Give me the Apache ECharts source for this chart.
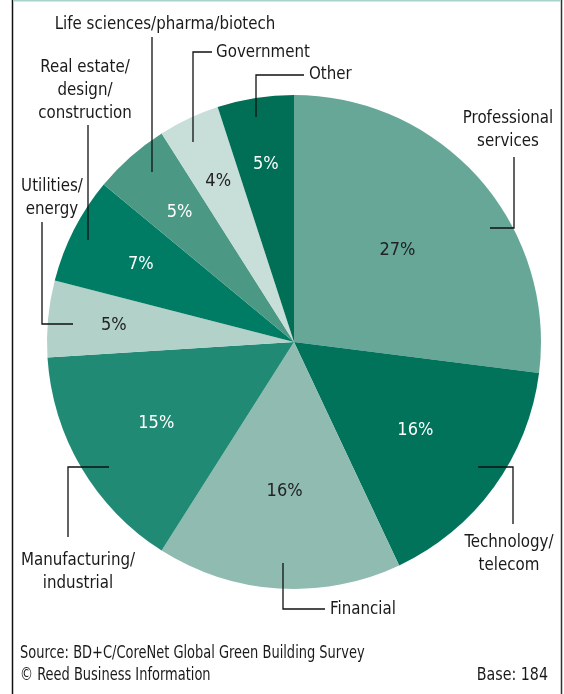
<!DOCTYPE html>
<html><head><meta charset="utf-8">
<script src="https://cdn.jsdelivr.net/npm/echarts@6/dist/echarts.min.js"></script>
<style>html,body{margin:0;padding:0;background:#fff}#c{width:564px;height:694px}</style>
</head><body><div id="c"></div>
<script>
// ---- data ----
const categories = ['Professional services','Technology/telecom','Financial','Manufacturing/industrial','Utilities/energy','Real estate/design/construction','Life sciences/pharma/biotech','Government','Other'];
const labelTexts = ['Professional\nservices','Technology/\ntelecom','Financial','Manufacturing/\nindustrial','Utilities/\nenergy','Real estate/\ndesign/\nconstruction','Life sciences/pharma/biotech','Government','Other'];
const values = [27,16,16,15,5,7,5,4,5];
const sourceLines = ['Source: BD+C/CoreNet Global Green Building Survey','\u00A9 Reed Business Information'];
const baseText = 'Base: 184';

// ---- styles / layout ----
const FONT = "'Liberation Sans Narrow','DejaVu Sans Condensed','Arial Narrow',sans-serif";
const colors = ['#66a797','#00735a','#8fbbb0','#218a74','#b1d1c9','#007c64','#4b9985','#c8ded8','#006f55'];
const pctColors = ['#222','#fff','#222','#fff','#222','#fff','#fff','#222','#fff'];
const pctRadius = [138,150,150,160,181,172,173,178,180];
const CX = 294, CY = 342, R = 247;
const labelLayout = [
  {x:508,y:129.5,align:'center',line:[[490,228],[514,228],[514,157]]},
  {x:509,y:553.5,align:'center',line:[[478,467],[513,467],[513,524]]},
  {x:330,y:609,align:'left',line:[[283,563],[283,609],[325,609]]},
  {x:78,y:572,align:'center',line:[[109,467],[68,467],[68,537]]},
  {x:52,y:198,align:'center',line:[[73,324],[42,324],[42,222]]},
  {x:85,y:90,align:'center',line:[[88,240],[88,125]]},
  {x:165,y:24,align:'center',line:[[152,172],[152,37]]},
  {x:216,y:52,align:'left',line:[[193,142],[193,52],[212,52]]},
  {x:309,y:74,align:'left',line:[[256,117],[256,75],[304,75]]}
];

const chart = echarts.init(document.getElementById('c'), null, {renderer:'canvas'});
const pieData = categories.map((n,i)=>({name:n,value:values[i],itemStyle:{color:colors[i]}}));
const lblData = categories.map((n,i)=>({name:n,value:values[i],label:{color:pctColors[i]}}));

const graphics = [];
// frame
graphics.push({type:'line',shape:{x1:12.5,y1:0,x2:12.5,y2:694},style:{stroke:'#111',lineWidth:1.5},z:10});
graphics.push({type:'line',shape:{x1:561.5,y1:0,x2:561.5,y2:694},style:{stroke:'#333',lineWidth:1.5},z:10});
graphics.push({type:'line',shape:{x1:13,y1:0.5,x2:561,y2:0.5},style:{stroke:'#a8d3ca',lineWidth:2},z:10});
labelLayout.forEach((L,i)=>{
  graphics.push({type:'polyline',shape:{points:L.line},style:{stroke:'#111',lineWidth:1.3,fill:null},z:20});
  graphics.push({type:'text',x:L.x,y:L.y,scaleX:0.93,style:{text:labelTexts[i],x:0,y:0,align:L.align,verticalAlign:'middle',fill:'#1a1a1a',font:'18px '+FONT,lineHeight:23},z:20});
});
graphics.push({type:'text',x:20,y:665,scaleX:0.85,style:{text:sourceLines.join('\n'),x:0,y:0,verticalAlign:'middle',fill:'#1a1a1a',font:'17px '+FONT,lineHeight:22},z:20});
graphics.push({type:'text',x:548,y:675,scaleX:0.88,style:{text:baseText,x:0,y:0,align:'right',verticalAlign:'middle',fill:'#1a1a1a',font:'18px '+FONT},z:20});

chart.setOption({
  animation:false,
  backgroundColor:'#fff',
  series:[
    {type:'pie',center:[CX,CY],radius:[0,R],startAngle:90,clockwise:true,silent:true,
     label:{show:false},labelLine:{show:false},itemStyle:{borderWidth:0},data:pieData},
    {type:'pie',center:[CX,CY],radius:[60,R],startAngle:90,clockwise:true,silent:true,
     itemStyle:{color:'rgba(0,0,0,0)',borderWidth:0},
     label:{show:true,position:'inside',formatter:'{c}%',fontSize:18,fontFamily:FONT},
     labelLine:{show:false},
     labelLayout:function(p){
       const r = p.labelRect; const mx = r.x + r.width/2, my = r.y + r.height/2;
       const a = Math.atan2(my-CY, mx-CX); const rr = pctRadius[p.dataIndex];
       return {x: CX + rr*Math.cos(a), y: CY + rr*Math.sin(a), align:'center', verticalAlign:'middle'};
     },
     data:lblData}
  ],
  graphic:graphics
});
</script></body></html>
